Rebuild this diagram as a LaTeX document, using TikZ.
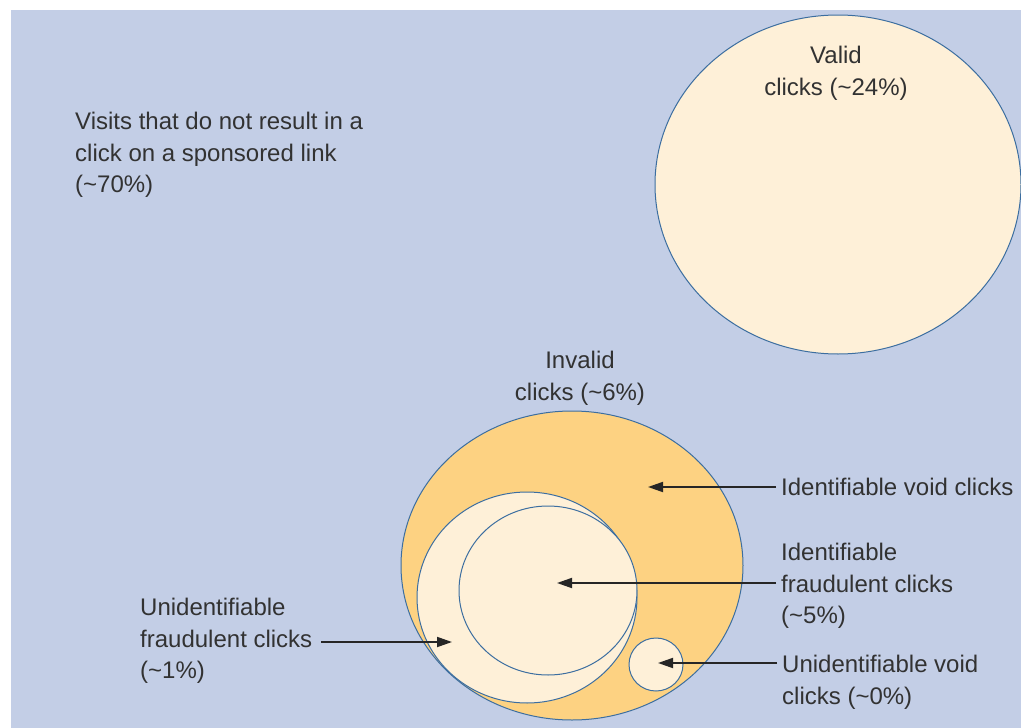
\documentclass[tikz,border=0pt]{standalone}
\usepackage{fontspec}
\setmainfont{Liberation Sans}
\usetikzlibrary{arrows.meta}
\definecolor{bgblue}{RGB}{195,206,230}
\definecolor{cream}{RGB}{254,240,216}
\definecolor{orangefill}{RGB}{253,210,130}
\definecolor{rim}{RGB}{60,110,160}
\definecolor{txt}{RGB}{50,50,50}
\tikzset{
  lbl/.style={inner sep=0pt, text=txt, font=\fontsize{24}{31.5}\selectfont},
  lblL/.style={lbl, align=left, anchor=north west},
  lblC/.style={lbl, align=center, anchor=north},
  disc/.style={draw=rim, line width=1pt},
  pointer/.style={draw=black!85, line width=1.8pt, -{Triangle[length=15pt,width=10pt]}, shorten <=5pt},
}
\begin{document}
\begin{tikzpicture}[x=1pt,y=-1pt]
\useasboundingbox (0,0) rectangle (1021,728);
\fill[bgblue] (11,10) rectangle (1021,728);

% circles
\draw[disc, fill=cream] (838,184.5) ellipse [x radius=183, y radius=169.5];
\draw[disc, fill=orangefill] (572,565.5) ellipse [x radius=171, y radius=154.5];
\draw[disc, fill=cream] (527,597.5) ellipse [x radius=110, y radius=105.5];
\draw[disc, fill=cream] (548,590.5) ellipse [x radius=89, y radius=84.5];
\draw[disc, fill=cream] (656,664.5) ellipse [x radius=27, y radius=26.5];

% labels
\node[lblL] (visits) at (75,112) {Visits that do not result in a\\click on a sponsored link\\(\textasciitilde70\%)};
\node[lblC] (valid) at (836,46) {Valid\\clicks (\textasciitilde24\%)};
\node[lblC] (invalid) at (580,351) {Invalid\\clicks (\textasciitilde6\%)};
\node[lblL] (idvoid) at (781,478) {Identifiable void clicks};
\node[lblL] (idfraud) at (781,543) {Identifiable\\fraudulent clicks\\(\textasciitilde5\%)};
\node[lblL] (unfraud) at (140,598) {Unidentifiable\\fraudulent clicks\\(\textasciitilde1\%)};
\node[lblL] (unvoid) at (782,655) {Unidentifiable void\\clicks (\textasciitilde0\%)};

% pointer tips
\coordinate (tipidvoid) at (648,487);
\coordinate (tipidfraud) at (557,583);
\coordinate (tipunfraud) at (452,642);
\coordinate (tipunvoid) at (658,663);

% connectors
\draw[pointer] (idvoid.west |- tipidvoid) -- (tipidvoid);
\draw[pointer] (idfraud.west |- tipidfraud) -- (tipidfraud);
\draw[pointer, shorten <=9pt] (unfraud.east |- tipunfraud) -- (tipunfraud);
\draw[pointer] (unvoid.west |- tipunvoid) -- (tipunvoid);
\end{tikzpicture}
\end{document}
